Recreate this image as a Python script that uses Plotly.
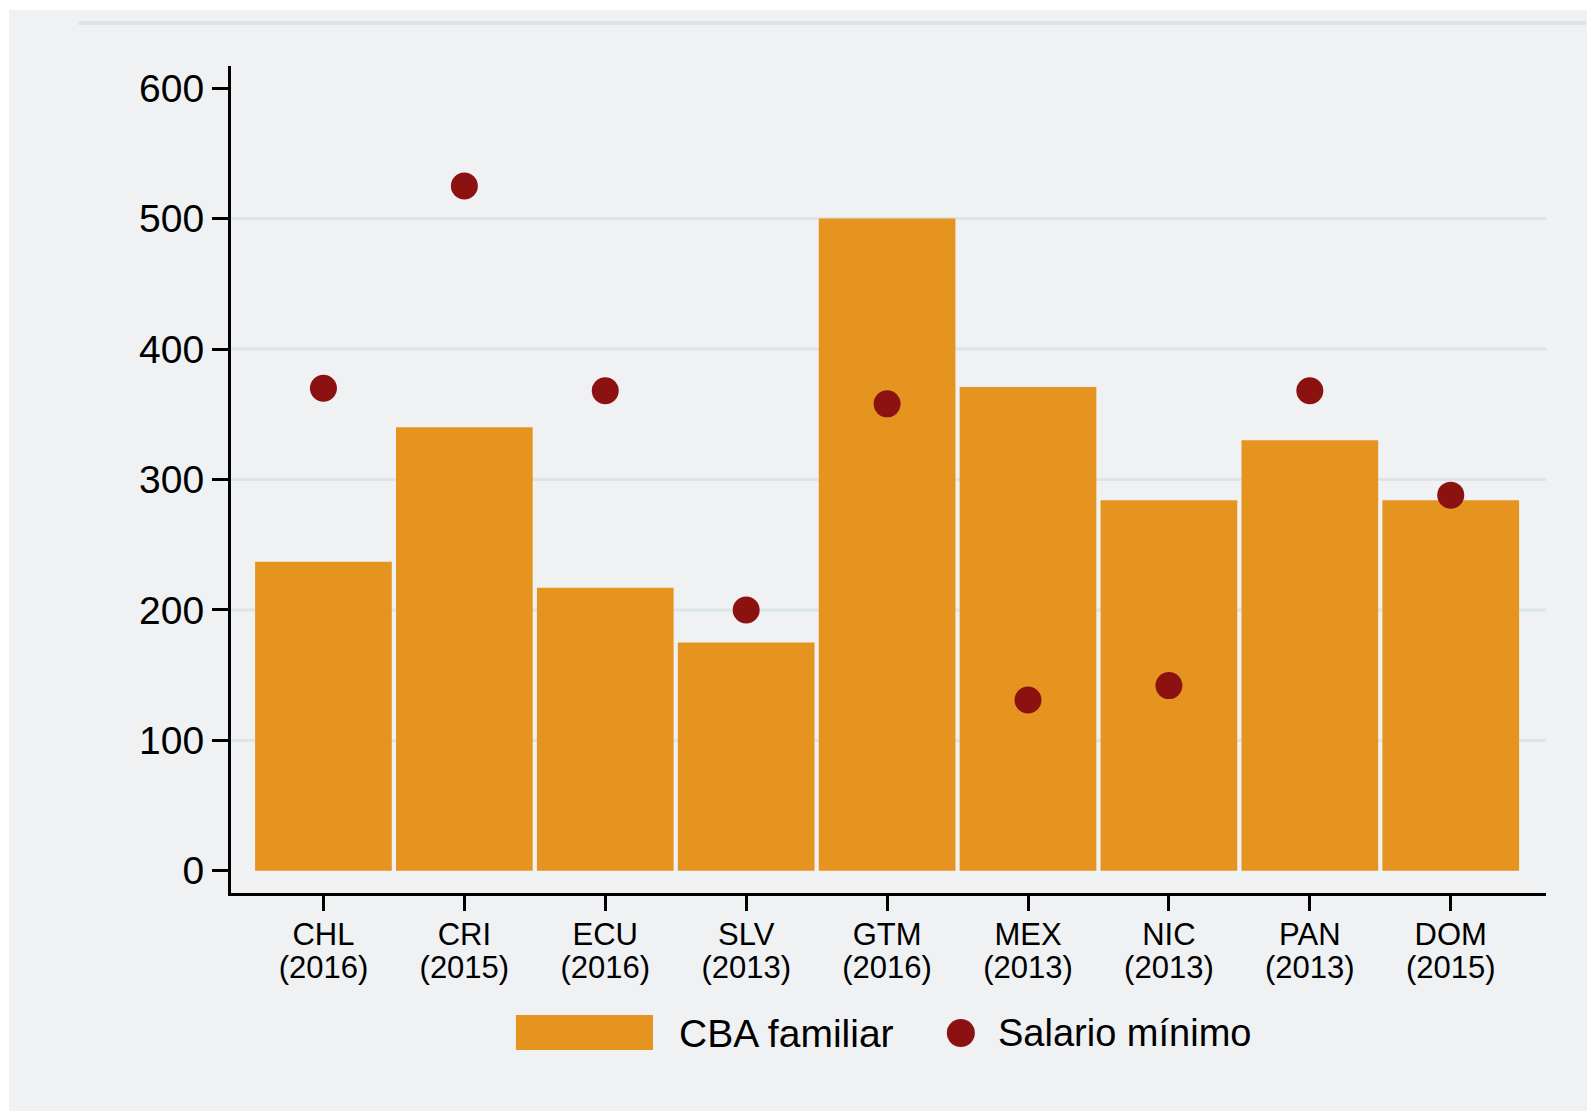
import plotly.graph_objects as go

countries = ["CHL", "CRI", "ECU", "SLV", "GTM", "MEX", "NIC", "PAN", "DOM"]
years = ["2016", "2015", "2016", "2013", "2016", "2013", "2013", "2013", "2015"]
cba_familiar = [237, 340, 217, 175, 500, 371, 284, 330, 284]
salario_minimo = [370, 525, 368, 200, 358, 131, 142, 368, 288]
y_ticks = [0, 100, 200, 300, 400, 500, 600]
grid_vals = [100, 200, 300, 400, 500]
legend_labels = ["CBA familiar", "Salario mínimo"]

ORANGE = "#e5951f"
RED = "#8c1212"
BG = "#eff1f3"
GRID = "#dce5e8"
FONT = "Liberation Sans, Arial, sans-serif"

xlabels = [f"<span style='font-size:31px'>{c}</span><br><span style='font-size:31px'>({y})</span>"
           for c, y in zip(countries, years)]
xpos = list(range(len(countries)))

fig = go.Figure()
fig.add_trace(go.Bar(x=xpos, y=cba_familiar, width=0.97, marker=dict(color=ORANGE, line=dict(width=0)),
                     name=legend_labels[0], showlegend=False))
fig.add_trace(go.Scatter(x=xpos, y=salario_minimo, mode="markers",
                         marker=dict(color=RED, size=27, line=dict(width=0)),
                         name=legend_labels[1], showlegend=False))

shapes = []
# white strips at the top and left edges
shapes.append(dict(type="rect", xref="paper", yref="paper", x0=-0.2, x1=1.1, y0=1.0677, y1=1.1,
                   fillcolor="white", line=dict(width=0), layer="below"))
shapes.append(dict(type="rect", xref="paper", yref="paper", x0=-0.2, x1=-0.1688, y0=-0.3, y1=1.1,
                   fillcolor="white", line=dict(width=0), layer="below"))
# decorative top line
shapes.append(dict(type="line", xref="paper", yref="paper", x0=-0.1163, x1=1.0304, y0=1.052, y1=1.052,
                   line=dict(color=GRID, width=4), layer="below"))
# gridlines
for v in grid_vals:
    shapes.append(dict(type="line", xref="paper", yref="y", x0=0, x1=1, y0=v, y1=v,
                       line=dict(color=GRID, width=3), layer="below"))
# manual legend
shapes.append(dict(type="rect", xref="paper", yref="paper", xsizemode="pixel", ysizemode="pixel",
                   xanchor=0.2167, yanchor=-0.1693, x0=0, x1=137, y0=-17, y1=18,
                   fillcolor=ORANGE, line=dict(width=0)))
shapes.append(dict(type="circle", xref="paper", yref="paper", xsizemode="pixel", ysizemode="pixel",
                   xanchor=0.555, yanchor=-0.1693, x0=-14, x1=14, y0=-14, y1=14,
                   fillcolor=RED, line=dict(width=0)))

annotations = [
    dict(text=legend_labels[0], xref="paper", yref="paper", x=0.3395, y=-0.1693, xanchor="left",
         yanchor="middle", showarrow=False, font=dict(size=39, color="black", family=FONT)),
    dict(text=legend_labels[1], xref="paper", yref="paper", x=0.5815, y=-0.1693, xanchor="left",
         yanchor="middle", showarrow=False, font=dict(size=38, color="black", family=FONT)),
]

fig.update_layout(
    width=1587, height=1103,
    margin=dict(l=223, r=49, t=58, b=218),
    paper_bgcolor=BG, plot_bgcolor=BG,
    font=dict(family=FONT, color="black"),
    shapes=shapes, annotations=annotations,
    showlegend=False,
    xaxis=dict(tickmode="array", tickvals=xpos, ticktext=xlabels, range=[-0.656, 8.676],
               showline=True, linecolor="black", linewidth=3, ticks="outside", ticklen=15,
               tickwidth=3, tickcolor="black", showgrid=False, zeroline=False,
               ticklabelstandoff=4,
               tickfont=dict(size=25, family=FONT, color="black")),
    yaxis=dict(tickmode="array", tickvals=y_ticks, range=[-17, 617],
               showline=True, linecolor="black", linewidth=3, ticks="outside", ticklen=16,
               tickwidth=3, tickcolor="black", showgrid=False, zeroline=False,
               tickfont=dict(size=39, family=FONT, color="black")),
)

fig.write_html("out.html")
